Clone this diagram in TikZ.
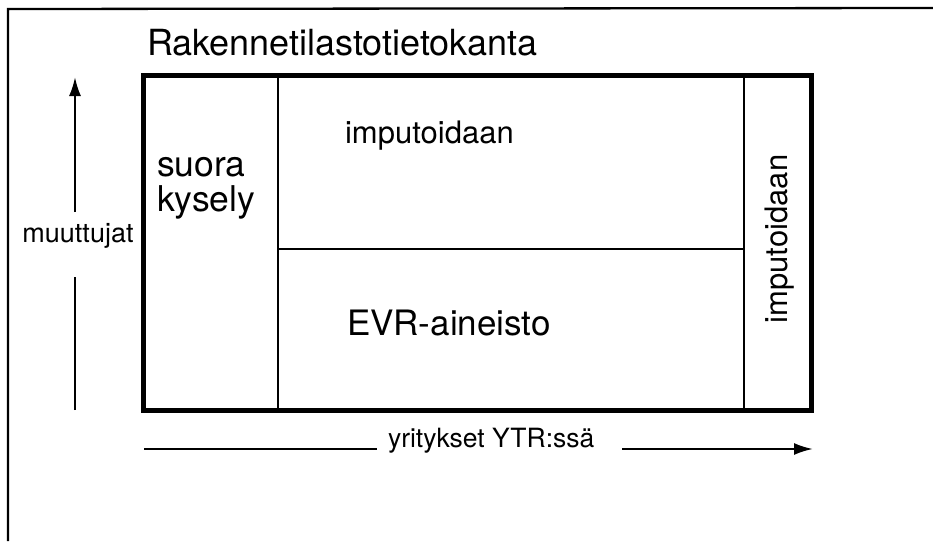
\documentclass[tikz,border=0pt]{standalone}
\usepackage{fontspec}
\setmainfont{TeX Gyre Heros}
\usetikzlibrary{arrows.meta}
\begin{document}
\begin{tikzpicture}[x=1pt,y=-1pt,
  thinline/.style={line width=2.3pt},
  thickline/.style={line width=5pt},
  lbl/.style={inner sep=0pt,outer sep=0pt},
  axisarrow/.style={line width=2.3pt,-{Latex[length=19pt,width=12pt]}}]
\useasboundingbox (0,0) rectangle (933,541);
% outer frame (partly cropped)
\draw[thinline] (8,541) -- (8,9) -- (933,8);
% main box
\coordinate (bl) at (143,410);
\coordinate (tr) at (811,75);
\draw[thickline,line join=miter] (bl) rectangle (tr);
\coordinate (v1t) at (278,75);
\coordinate (v1b) at (278,410);
\coordinate (v2t) at (744,75);
\coordinate (v2b) at (744,410);
\coordinate (hl) at (278,249);
\coordinate (hr) at (744,249);
\draw[thinline] (v1t) -- (v1b);
\draw[thinline] (v2t) -- (v2b);
\draw[thinline] (hl) -- (hr);
% texts
\node[lbl,anchor=base west,font=\fontsize{36}{42}\selectfont] (title) at (147,55) {Rakennetilastotietokanta};
\node[lbl,anchor=base west,font=\fontsize{35.5}{42}\selectfont] (suora) at (157,176) {suora};
\node[lbl,anchor=base west,font=\fontsize{35.5}{42}\selectfont] (kysely) at (157,211) {kysely};
\node[lbl,anchor=base west,font=\fontsize{31}{36}\selectfont] (imp1) at (345,143) {imputoidaan};
\node[lbl,anchor=base west,font=\fontsize{35}{40}\selectfont] (evr) at (347,335) {EVR-aineisto};
\node[lbl,anchor=base,rotate=90,font=\fontsize{31}{36}\selectfont] (imp2) at (787,239) {imputoidaan};
\node[lbl,anchor=base,font=\fontsize{27}{30}\selectfont] (muut) at (78,242) {muuttujat};
\node[lbl,anchor=base west,font=\fontsize{26.5}{30}\selectfont] (yrit) at (388,447) {yritykset YTR:ssä};
% vertical axis arrow
\coordinate (va) at (75,410);
\coordinate (vb) at (75,277);
\coordinate (vc) at (75,212);
\coordinate (vd) at (75,77);
\draw[thinline] (va) -- (vb);
\draw[axisarrow] (vc) -- (vd);
% horizontal axis arrow
\coordinate (ha) at (144,449);
\coordinate (hb) at (377,449);
\coordinate (hc) at (622,449);
\coordinate (hd) at (813,449);
\draw[thinline] (ha) -- (hb);
\draw[axisarrow] (hc) -- (hd);
\end{tikzpicture}
\end{document}
